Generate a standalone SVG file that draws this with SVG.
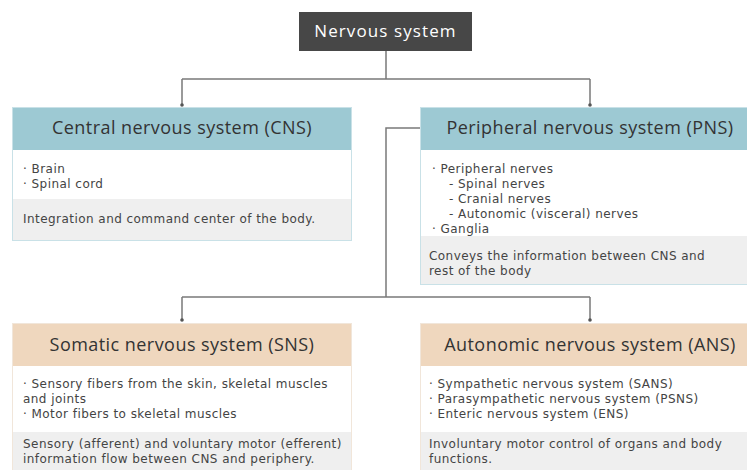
<svg xmlns="http://www.w3.org/2000/svg" width="747" height="470" viewBox="0 0 747 470">
<defs>
<style>
.hdrB{fill:#9dc9d3}
.hdrP{fill:#efd7be}
.body{fill:#ffffff}
.foot{fill:#efefef}
.frameB{fill:none;stroke:#c9e1e7;stroke-width:1}
.frameP{fill:none;stroke:#f1e6da;stroke-width:1}
.title{font-family:"Open Sans","Liberation Sans",sans-serif;font-size:18px;letter-spacing:0.45px;fill:#333333;text-anchor:middle}
.txt{font-family:"DejaVu Sans","Liberation Sans",sans-serif;font-size:12px;letter-spacing:0.45px;fill:#444444}
.conn{fill:none;stroke:#7a7a7a;stroke-width:1.5}
.dot{fill:#555555}
</style>
</defs>
<rect width="747" height="470" fill="#ffffff"/>
<g id="connectors">
<path class="conn" d="M386,51 V79 M182,79 H590 M182,79 V105 M590,79 V105"/>
<path class="conn" d="M420,128 H386 V297 M182,297 H590 M182,297 V320 M590,297 V320"/>
<circle class="dot" cx="182" cy="105" r="1.8"/>
<circle class="dot" cx="590" cy="105" r="1.8"/>
<circle class="dot" cx="182" cy="320" r="1.8"/>
<circle class="dot" cx="590" cy="320" r="1.8"/>
</g>
<g id="nervous-system">
<rect x="299" y="12" width="173" height="39" fill="#474747"/>
<text x="385.5" y="37" font-family="'Open Sans','Liberation Sans',sans-serif" font-size="17" letter-spacing="1.1" fill="#ffffff" text-anchor="middle">Nervous system</text>
</g>
<g id="cns">
<rect class="hdrB" x="12" y="107" width="340" height="43"/>
<rect class="body" x="12" y="150" width="340" height="49"/>
<rect class="foot" x="12" y="199" width="340" height="42"/>
<rect class="frameB" x="12.5" y="107.5" width="339" height="133"/>
<text class="title" x="182" y="134">Central nervous system (CNS)</text>
<text class="txt" x="23" y="173">· Brain</text>
<text class="txt" x="23" y="188">· Spinal cord</text>
<text class="txt" x="23" y="223">Integration and command center of the body.</text>
</g>
<g id="pns">
<rect class="hdrB" x="420" y="107" width="340" height="43"/>
<rect class="body" x="420" y="150" width="340" height="86"/>
<rect class="foot" x="420" y="236" width="340" height="49"/>
<rect class="frameB" x="420.5" y="107.5" width="339" height="177"/>
<text class="title" x="590" y="134">Peripheral nervous system (PNS)</text>
<text class="txt" x="432" y="173">· Peripheral nerves</text>
<text class="txt" x="449" y="188">- Spinal nerves</text>
<text class="txt" x="449" y="203">- Cranial nerves</text>
<text class="txt" x="449" y="218">- Autonomic (visceral) nerves</text>
<text class="txt" x="432" y="233">· Ganglia</text>
<text class="txt" x="429" y="260">Conveys the information between CNS and</text>
<text class="txt" x="429" y="275">rest of the body</text>
</g>
<g id="sns">
<rect class="hdrP" x="12" y="323" width="340" height="43"/>
<rect class="body" x="12" y="366" width="340" height="66"/>
<rect class="foot" x="12" y="432" width="340" height="40"/>
<rect class="frameP" x="12.5" y="323.5" width="339" height="150"/>
<text class="title" x="182" y="351">Somatic nervous system (SNS)</text>
<text class="txt" x="23" y="388">· Sensory fibers from the skin, skeletal muscles</text>
<text class="txt" x="23" y="403">and joints</text>
<text class="txt" x="23" y="418">· Motor fibers to skeletal muscles</text>
<text class="txt" x="23" y="448">Sensory (afferent) and voluntary motor (efferent)</text>
<text class="txt" x="23" y="463">information flow between CNS and periphery.</text>
</g>
<g id="ans">
<rect class="hdrP" x="420" y="323" width="340" height="43"/>
<rect class="body" x="420" y="366" width="340" height="66"/>
<rect class="foot" x="420" y="432" width="340" height="40"/>
<rect class="frameP" x="420.5" y="323.5" width="339" height="150"/>
<text class="title" x="590" y="351">Autonomic nervous system (ANS)</text>
<text class="txt" x="429" y="388">· Sympathetic nervous system (SANS)</text>
<text class="txt" x="429" y="403">· Parasympathetic nervous system (PSNS)</text>
<text class="txt" x="429" y="418">· Enteric nervous system (ENS)</text>
<text class="txt" x="429" y="448">Involuntary motor control of organs and body</text>
<text class="txt" x="429" y="463">functions.</text>
</g>
</svg>
